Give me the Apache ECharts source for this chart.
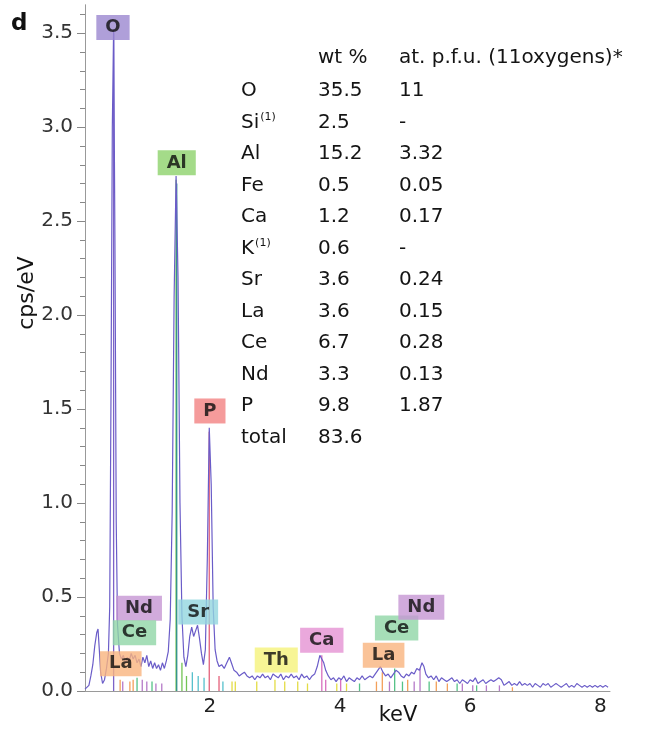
<!DOCTYPE html>
<html>
<head>
<meta charset="utf-8">
<script src="https://cdn.jsdelivr.net/npm/echarts@6/dist/echarts.min.js"></script>
<style>
html, body { margin: 0; padding: 0; background: #fff; }
#chart { width: 654px; height: 729px; }
</style>
</head>
<body>
<div id="chart"></div>
<script>
// EDS spectrum: energy (keV), intensity (cps/eV)
const spectrum = [
  [0.08,0.01],[0.11,0.02],[0.14,0.03],[0.17,0.08],[0.20,0.14],[0.23,0.24],[0.26,0.31],[0.28,0.33],
  [0.30,0.22],[0.32,0.10],[0.35,0.04],[0.38,0.06],[0.41,0.12],[0.44,0.20],[0.46,0.45],[0.48,1.60],
  [0.50,3.00],[0.52,3.52],[0.54,2.40],[0.56,0.90],[0.58,0.35],[0.61,0.20],[0.64,0.17],[0.67,0.19],
  [0.70,0.15],[0.73,0.18],[0.76,0.16],[0.79,0.20],[0.82,0.17],[0.85,0.19],[0.88,0.15],[0.91,0.17],
  [0.94,0.13],[0.97,0.18],[1.00,0.15],[1.03,0.19],[1.06,0.13],[1.09,0.16],[1.12,0.12],[1.15,0.15],
  [1.18,0.12],[1.21,0.14],[1.24,0.11],[1.27,0.15],[1.30,0.12],[1.33,0.16],[1.36,0.21],[1.39,0.38],
  [1.42,0.95],[1.45,2.10],[1.48,2.74],[1.51,2.20],[1.54,1.00],[1.57,0.40],[1.60,0.18],[1.63,0.13],
  [1.66,0.19],[1.69,0.29],[1.72,0.34],[1.75,0.29],[1.78,0.32],[1.81,0.35],[1.84,0.28],[1.87,0.20],
  [1.90,0.14],[1.93,0.22],[1.96,0.70],[1.99,1.40],[2.02,1.10],[2.05,0.45],[2.08,0.22],[2.11,0.16],
  [2.14,0.13],[2.18,0.14],[2.22,0.12],[2.26,0.15],[2.30,0.18],[2.33,0.15],[2.37,0.11],[2.41,0.10],
  [2.45,0.08],[2.49,0.09],[2.53,0.10],[2.57,0.08],[2.61,0.07],[2.65,0.08],[2.69,0.06],[2.73,0.08],
  [2.77,0.07],[2.81,0.09],[2.85,0.07],[2.89,0.08],[2.93,0.06],[2.97,0.09],[3.01,0.08],[3.05,0.07],
  [3.09,0.09],[3.13,0.06],[3.17,0.08],[3.21,0.07],[3.25,0.09],[3.29,0.07],[3.33,0.08],[3.37,0.06],
  [3.41,0.09],[3.45,0.07],[3.49,0.08],[3.53,0.06],[3.57,0.08],[3.61,0.09],[3.65,0.13],[3.69,0.19],
  [3.72,0.20],[3.75,0.15],[3.78,0.11],[3.82,0.08],[3.86,0.06],[3.90,0.07],[3.94,0.05],[3.98,0.07],
  [4.02,0.06],[4.06,0.08],[4.10,0.05],[4.14,0.07],[4.18,0.06],[4.22,0.05],[4.26,0.07],[4.30,0.06],
  [4.34,0.08],[4.38,0.06],[4.42,0.07],[4.46,0.08],[4.50,0.07],[4.54,0.09],[4.58,0.11],[4.62,0.13],
  [4.66,0.10],[4.70,0.08],[4.74,0.09],[4.78,0.07],[4.82,0.09],[4.86,0.11],[4.90,0.10],[4.94,0.08],
  [4.98,0.07],[5.02,0.09],[5.06,0.08],[5.10,0.10],[5.14,0.09],[5.18,0.12],[5.22,0.11],[5.26,0.15],
  [5.29,0.13],[5.32,0.09],[5.36,0.07],[5.40,0.08],[5.44,0.06],[5.48,0.08],[5.52,0.05],[5.56,0.07],
  [5.60,0.06],[5.64,0.05],[5.68,0.06],[5.72,0.07],[5.76,0.05],[5.80,0.06],[5.84,0.04],[5.88,0.06],
  [5.92,0.05],[5.96,0.04],[6.00,0.06],[6.04,0.05],[6.08,0.07],[6.12,0.04],[6.16,0.05],[6.20,0.06],
  [6.24,0.04],[6.28,0.05],[6.32,0.06],[6.36,0.05],[6.40,0.06],[6.44,0.07],[6.48,0.06],[6.52,0.03],
  [6.56,0.04],[6.60,0.05],[6.64,0.03],[6.68,0.04],[6.72,0.03],[6.76,0.05],[6.80,0.03],[6.84,0.04],
  [6.88,0.03],[6.92,0.04],[6.96,0.02],[7.00,0.04],[7.04,0.03],[7.08,0.02],[7.12,0.04],[7.16,0.03],
  [7.20,0.04],[7.24,0.02],[7.28,0.03],[7.32,0.04],[7.36,0.03],[7.40,0.02],[7.44,0.03],[7.48,0.04],
  [7.52,0.02],[7.56,0.03],[7.60,0.02],[7.64,0.04],[7.68,0.03],[7.72,0.02],[7.76,0.03],[7.80,0.02],
  [7.84,0.03],[7.88,0.02],[7.92,0.03],[7.96,0.02],[8.00,0.03],[8.04,0.02],[8.08,0.03],[8.12,0.02]
];

// Element colours (line marker, label box)
const elementLineColors = {
  O: '#7d63c8', Al: '#72c454', AlB: '#2f8f8a', P: '#e4607a', Sr: '#55c0cc',
  Nd: '#b57ac8', Ce: '#55c287', La: '#f3a05a', Th: '#e3dc45', Ca: '#d86fbf'
};
const elementBoxColors = {
  O: '#9b87d0', Al: '#8dd26c', P: '#f28282', Sr: '#92d6df', Nd: '#c596d3',
  Ce: '#90d6a6', La: '#f9b47e', Th: '#f5f27a', Ca: '#e592d3'
};

// Characteristic line markers: energy (keV), height (cps/eV), element
const lineMarkers = [
  [0.52,3.50,'O'], [1.48,2.72,'Al'], [1.49,2.70,'AlB'], [1.99,1.38,'P'], [3.72,0.19,'Ca'],
  [0.62,0.06,'La'], [0.66,0.05,'Nd'], [0.77,0.05,'La'], [0.82,0.06,'La'], [0.88,0.07,'Ce'],
  [0.96,0.06,'Nd'], [1.03,0.05,'Nd'], [1.11,0.05,'Ce'], [1.17,0.04,'Nd'], [1.26,0.04,'Nd'],
  [1.57,0.15,'Al'], [1.64,0.08,'Al'], [1.73,0.10,'Sr'], [1.82,0.08,'Sr'], [1.91,0.07,'Sr'],
  [2.14,0.08,'P'], [2.20,0.05,'Sr'], [2.34,0.05,'Th'], [2.39,0.05,'Th'], [2.72,0.05,'Th'],
  [3.00,0.06,'Th'], [3.15,0.05,'Th'], [3.35,0.05,'Th'], [3.50,0.04,'Th'], [3.78,0.06,'Ca'],
  [3.95,0.04,'Th'], [4.01,0.06,'Ca'], [4.10,0.04,'Th'], [4.30,0.04,'Ce'], [4.56,0.05,'La'],
  [4.65,0.10,'La'], [4.76,0.05,'Nd'], [4.84,0.12,'Ce'], [4.96,0.05,'Ce'], [5.04,0.06,'La'],
  [5.14,0.05,'Nd'], [5.23,0.12,'Nd'], [5.37,0.05,'Ce'], [5.48,0.05,'La'], [5.65,0.04,'La'],
  [5.80,0.04,'Ce'], [5.88,0.04,'Nd'], [6.04,0.03,'Nd'], [6.10,0.03,'Ce'], [6.25,0.03,'Nd'],
  [6.45,0.03,'Nd'], [6.65,0.02,'La']
];

// Peak identification boxes: energy (keV), height (cps/eV), element
const peakLabels = [
  [0.51,3.53,'O'], [1.49,2.81,'Al'], [2.00,1.49,'P'], [0.91,0.44,'Nd'], [0.84,0.31,'Ce'],
  [0.63,0.145,'La'], [1.82,0.42,'Sr'], [3.02,0.165,'Th'], [3.72,0.27,'Ca'], [4.67,0.19,'La'],
  [4.87,0.335,'Ce'], [5.25,0.445,'Nd']
];

// Axis ticks
const yTickLabels = [0, 0.5, 1, 1.5, 2, 2.5, 3, 3.5];
const yMinorTicks = [0,0.1,0.2,0.3,0.4,0.5,0.6,0.7,0.8,0.9,1,1.1,1.2,1.3,1.4,1.5,1.6,1.7,1.8,1.9,
  2,2.1,2.2,2.3,2.4,2.5,2.6,2.7,2.8,2.9,3,3.1,3.2,3.3,3.4,3.5,3.6];
const xTickLabels = [2, 4, 6, 8];

// Composition table
const tableElements = ['O', 'Si', 'Al', 'Fe', 'Ca', 'K', 'Sr', 'La', 'Ce', 'Nd', 'P', 'total'];
const tableFootnote = ['', '(1)', '', '', '', '(1)', '', '', '', '', '', ''];
const wtPercent = ['35.5', '2.5', '15.2', '0.5', '1.2', '0.6', '3.6', '3.6', '6.7', '3.3', '9.8', '83.6'];
const atPfu = ['11', '-', '3.32', '0.05', '0.17', '-', '0.24', '0.15', '0.28', '0.13', '1.87', ''];
const tableHeader = ['wt %', 'at. p.f.u. (11oxygens)*'];

const FONT = '"DejaVu Sans", "Noto Sans", sans-serif';
const TEXT = '#141414';

const chart = echarts.init(document.getElementById('chart'), null, { renderer: 'canvas' });

const tableGraphics = [];
const rowTop = 91, rowStep = 31.5;
const colEl = 241, colWt = 318, colAt = 399;
const tableFont = '20px ' + FONT;
tableGraphics.push({ type: 'text', x: colWt, y: 58, style: { text: tableHeader[0], font: tableFont, fill: TEXT, verticalAlign: 'middle' } });
tableGraphics.push({ type: 'text', x: colAt, y: 58, style: { text: tableHeader[1], font: tableFont, fill: TEXT, verticalAlign: 'middle' } });
tableElements.forEach((el, i) => {
  const y = rowTop + i * rowStep;
  tableGraphics.push({
    type: 'text', x: colEl, y: y,
    style: {
      text: '{a|' + el + '}' + (tableFootnote[i] ? '{s|' + tableFootnote[i] + '}' : ''),
      verticalAlign: 'middle',
      rich: {
        a: { fontSize: 20, fontFamily: FONT, fill: TEXT, color: TEXT, lineHeight: 26 },
        s: { fontSize: 11, fontFamily: FONT, fill: TEXT, color: TEXT, lineHeight: 26, verticalAlign: 'top', padding: [2, 0, 0, 1] }
      }
    }
  });
  tableGraphics.push({ type: 'text', x: colWt, y: y, style: { text: wtPercent[i], font: tableFont, fill: TEXT, verticalAlign: 'middle' } });
  if (atPfu[i]) {
    tableGraphics.push({ type: 'text', x: colAt, y: y, style: { text: atPfu[i], font: tableFont, fill: TEXT, verticalAlign: 'middle' } });
  }
});

const option = {
  backgroundColor: '#ffffff',
  animation: false,
  grid: { left: 85, right: 44, top: 5, bottom: 38 },
  xAxis: {
    type: 'value', min: 0.08, max: 8.15,
    axisLine: { show: true, lineStyle: { color: '#9a9a9a', width: 1 } },
    axisTick: { show: false },
    splitLine: { show: false },
    axisLabel: {
      customValues: xTickLabels, fontSize: 20, fontFamily: FONT, color: '#222', margin: 6
    }
  },
  yAxis: [{
    type: 'value', min: 0, max: 3.65,
    axisLine: { show: true, lineStyle: { color: '#999', width: 1 } },
    axisTick: { show: true, customValues: yTickLabels, length: 8, lineStyle: { color: '#888' } },
    splitLine: { show: false },
    axisLabel: {
      customValues: yTickLabels, fontSize: 20, fontFamily: FONT, color: '#333', margin: 12,
      formatter: v => v.toFixed(1)
    }
  }, {
    type: 'value', min: 0, max: 3.65, position: 'left',
    axisLine: { show: true, lineStyle: { color: '#999', width: 1 } },
    axisTick: { show: true, customValues: yMinorTicks, length: 5, lineStyle: { color: '#888' } },
    axisLabel: { show: false },
    splitLine: { show: false }
  }],
  series: [
    {
      name: 'markers', type: 'custom', z: 2, silent: true,
      data: lineMarkers.map(m => ({ value: [m[0], m[1]], itemStyle: { color: elementLineColors[m[2]] } })),
      renderItem: (params, api) => {
        const p0 = api.coord([api.value(0), 0]);
        const p1 = api.coord([api.value(0), api.value(1)]);
        return {
          type: 'line',
          shape: { x1: p0[0], y1: p0[1], x2: p1[0], y2: p1[1] },
          style: { stroke: api.visual('color'), lineWidth: 1.3 }
        };
      }
    },
    {
      name: 'spectrum', type: 'line', z: 3, silent: true,
      data: spectrum, showSymbol: false, smooth: false,
      lineStyle: { color: '#6a5cc8', width: 1.2 }
    },
    {
      name: 'peaks', type: 'scatter', z: 5, silent: true,
      symbolSize: 1, itemStyle: { color: 'rgba(0,0,0,0)' },
      data: peakLabels.map(p => ({
        value: [p[0], p[1]],
        label: { backgroundColor: elementBoxColors[p[2]] },
        name: p[2]
      })),
      label: {
        show: true, position: 'inside', formatter: p => p.name,
        fontSize: 18, fontWeight: 'bold', fontFamily: FONT, color: '#0d0d0d',
        lineHeight: 22, padding: [2, 9, 1, 9]
      },
      labelLayout: { hideOverlap: false }
    }
  ],
  graphic: [
    { type: 'text', x: 11, y: 24, style: { text: 'd', font: 'bold 23px ' + FONT, fill: '#111', verticalAlign: 'middle' } },
    { type: 'text', x: 27, y: 293, rotation: Math.PI / 2, style: { text: 'cps/eV', font: '22px ' + FONT, fill: TEXT, align: 'center', verticalAlign: 'middle' } },
    { type: 'text', x: 398, y: 716, style: { text: 'keV', font: '21px ' + FONT, fill: TEXT, align: 'center', verticalAlign: 'middle' } }
  ].concat(tableGraphics)
};

chart.setOption(option);
</script>
</body>
</html>
